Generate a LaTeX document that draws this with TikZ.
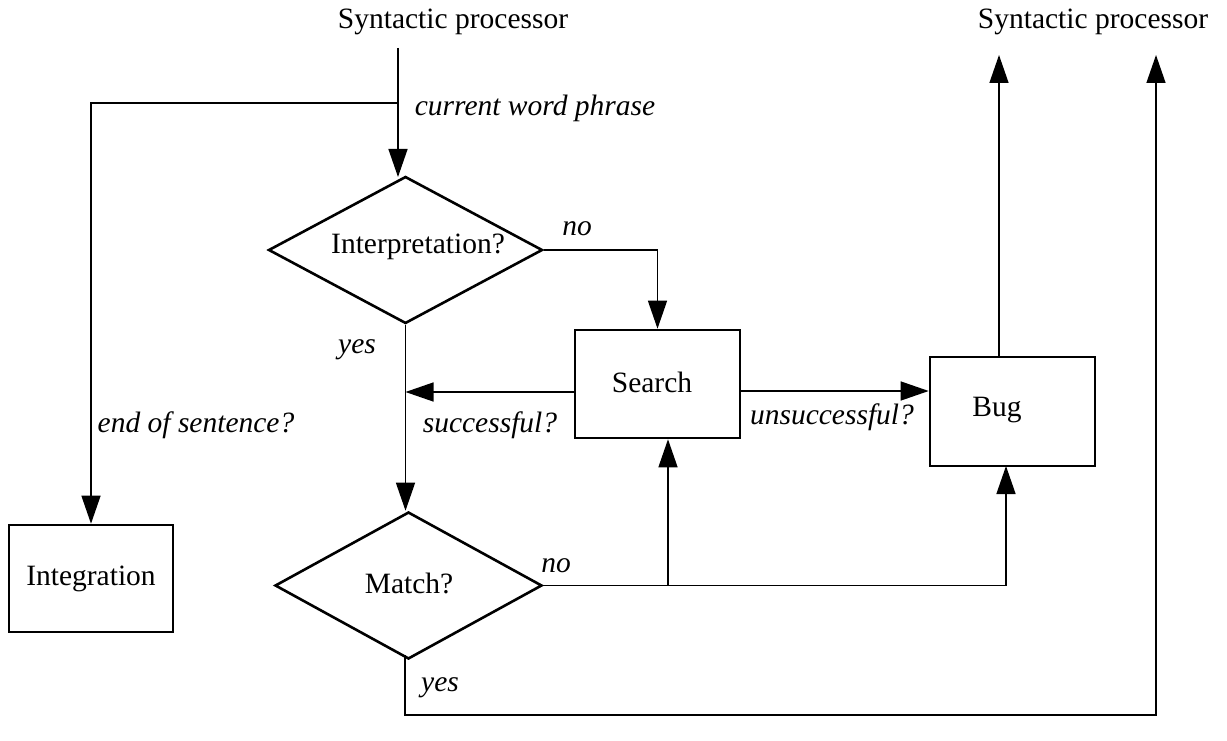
\documentclass[tikz,border=0pt]{standalone}
\usepackage{fontspec}
\setmainfont{Liberation Serif}
\usetikzlibrary{arrows.meta,shapes.geometric}
\begin{document}
\begin{tikzpicture}[x=1pt,y=-1pt,
  every node/.style={font=\fontsize{29.5pt}{35pt}\selectfont, inner sep=0pt},
  lbl/.style={font=\fontsize{29.5pt}{35pt}\selectfont\itshape},
  boxnode/.style={draw, rectangle, line width=2.6pt},
  dia/.style={draw, diamond, line width=2.6pt},
  conn/.style={line width=1.4pt},
  arr/.style={conn, -{Triangle[length=28pt,width=19pt]}}]
\useasboundingbox (0,0) rectangle (1227,741);
% titles
\node (title1) at (453,22) {Syntactic processor};
\node (title2) at (1093,22) {Syntactic processor};
% shapes
\node[boxnode, minimum width=164pt, minimum height=107pt] (integ) at (91,578.5) {Integration};
\node[boxnode, minimum width=165pt, minimum height=108pt] (search) at (657.5,384) {};
\node (searchT) at (652,382) {Search};
\node[boxnode, minimum width=165pt, minimum height=109pt] (bug) at (1012.5,411.5) {};
\node (bugT) at (997,410) {Bug};
\node[dia, minimum width=274pt, minimum height=147pt] (interp) at (405.5,250) {};
\node (interpT) at (418,247) {Interpretation?};
\node[dia, minimum width=267pt, minimum height=147pt] (match) at (408.5,585.5) {};
\node (matchT) at (409,583) {Match?};
% coordinates
\coordinate (t1) at (398,48);
\coordinate (br) at (398,103);
\coordinate (iin) at (398,177);
\coordinate (sw) at (575,392);
\coordinate (se) at (740,391);
\coordinate (out1) at (999,55);
\coordinate (out2) at (1156,55);
\coordinate (mb) at (668,585);
\coordinate (bin) at (1006,466);
\coordinate (ms) at (405,655);
\coordinate (yb) at (405,715);
% connectors
\draw[arr] (t1) -- (iin);
\draw[arr] (br) -| (integ.north);
\draw[arr] (interp.east) -| (search.north);
\draw[arr] (interp.south) -- (interp.south |- match.north);
\draw[arr] (sw) -- (sw -| interp.south);
\draw[arr] (se) -- (se -| bug.west);
\draw[arr] (out1 |- bug.north) -- (out1);
\draw[arr] (match.east) -| (bin);
\draw[arr] (mb) -- (mb |- search.south);
\draw[arr] (ms) -- (yb) -| (out2);
% labels
\node[lbl] (l1) at (535,108) {current word phrase};
\node[lbl] (l2) at (196,425) {end of sentence?};
\node[lbl] (l3) at (577,229) {no};
\node[lbl] (l4) at (357,350) {yes};
\node[lbl] (l5) at (490,425) {successful?};
\node[lbl] (l6) at (832,417) {unsuccessful?};
\node[lbl] (l7) at (556,566) {no};
\node[lbl] (l8) at (440,688) {yes};
\end{tikzpicture}
\end{document}
